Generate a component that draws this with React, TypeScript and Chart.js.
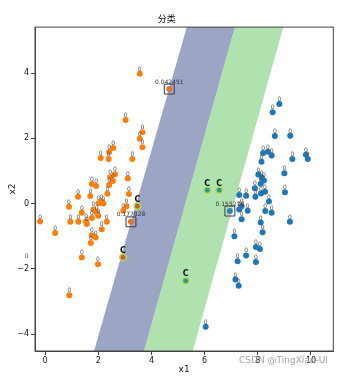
import React, { useEffect, useRef } from 'react';
import { Chart, registerables } from 'chart.js';

Chart.register(...registerables);

// axis settings
const xTicks = [0, 2, 4, 6, 8, 10];
const yTicks = [-4, -2, 0, 2, 4];
const xMin = -0.38;
const xMax = 10.84;
const yMin = -4.52;
const yMax = 5.41;

// decision band boundaries (x at yMin and at yMax)
const boundaryBottomX = [1.84, 3.72, 5.55];
const boundaryTopX = [5.33, 7.14, 8.96];

// class 0 points (orange)
const orangeX = [3.56, 3.03, 3.66, 3.56, 3.66, 2.56, 2.41, 2.09, 2.39, 3.28, 2.63, 3.11, 2.45, 2.55, 1.76, 1.92, 2.41, 1.24, 1.70, 2.34, 3.15, 0.90, 1.38, 1.82, 1.94, 2.00, 1.76, 2.01, 2.12, 2.19, 2.94, 3.06, -0.19, 0.95, 1.25, 1.54, 1.57, 2.32, 0.38, 2.13, 1.76, 1.90, 1.72, 1.38, 1.99, 0.91, -0.69];
const orangeY = [3.98, 2.56, 2.19, 1.99, 1.73, 1.70, 1.58, 1.40, 1.37, 1.37, 0.90, 0.77, 0.81, 0.69, 0.60, 0.54, 0.57, 0.21, 0.23, 0.30, 0.29, -0.10, -0.28, -0.18, -0.28, -0.37, -0.44, 0.01, 0.06, 0.00, -0.22, -0.08, -0.55, -0.56, -0.56, -0.54, -0.63, -0.56, -0.90, -0.79, -0.97, -1.04, -1.21, -1.65, -1.86, -2.81, -1.76];

// class 1 points (blue)
const blueX = [8.81, 8.56, 8.64, 9.22, 8.20, 8.38, 8.52, 8.14, 9.30, 9.81, 9.88, 9.00, 8.02, 8.15, 8.23, 8.11, 7.89, 8.27, 8.12, 9.02, 7.30, 7.56, 7.91, 8.42, 7.39, 7.30, 7.62, 8.28, 8.52, 7.39, 8.11, 9.21, 8.18, 7.12, 7.93, 8.08, 7.56, 7.24, 7.93, 7.16, 7.28, 6.04];
const blueY = [3.05, 2.80, 2.07, 2.08, 1.55, 1.59, 1.47, 1.28, 1.37, 1.50, 1.37, 0.93, 0.89, 0.80, 0.71, 0.61, 0.47, 0.36, 0.31, 0.35, 0.26, 0.24, 0.21, 0.06, -0.08, -0.18, -0.22, -0.23, -0.28, -0.48, -0.58, -0.56, -0.88, -1.00, -1.33, -1.39, -1.59, -1.77, -1.79, -2.33, -2.52, -3.78];

// support vectors with alpha values
const svX = [4.67, 3.23, 6.95];
const svY = [3.51, -0.56, -0.23];
const svClass = [0, 0, 1];
const svAlpha = ['0.042451', '0.177828', '0.155278'];

// bounded support vectors (alpha = C)
const cX = [3.47, 2.93, 6.10, 6.55, 5.29];
const cY = [-0.08, -1.65, 0.41, 0.41, -2.37];
const cClass = [0, 0, 1, 1, 1];

const ORANGE = '#ff7f0e';
const BLUE = '#1f77b4';
const FONT = "'DejaVu Sans', sans-serif";

const minus = (v: number) => String(v).replace('-', '\u2212');

const pts = (xs: number[], ys: number[]) => xs.map((x, i) => ({ x, y: ys[i] }));

const band = (i: number) => [
  { x: boundaryBottomX[i], y: yMin },
  { x: boundaryTopX[i], y: yMax },
  { x: boundaryTopX[i + 1], y: yMax },
  { x: boundaryBottomX[i + 1], y: yMin },
  { x: boundaryBottomX[i], y: yMin },
];

const labelPlugin = {
  id: 'pointLabels',
  afterDatasetsDraw(chart: any) {
    const ctx = chart.ctx;
    chart.data.datasets.forEach((ds: any, di: number) => {
      if (!ds.pointLabels) return;
      const meta = chart.getDatasetMeta(di);
      ctx.save();
      ctx.font = ds.labelFont;
      ctx.fillStyle = ds.labelColor;
      ctx.textAlign = 'center';
      ctx.textBaseline = 'middle';
      meta.data.forEach((el: any, j: number) => {
        ctx.fillText(ds.pointLabels[j], el.x, el.y - ds.labelOffset);
      });
      ctx.restore();
    });
  },
  afterDraw(chart: any) {
    const { ctx, chartArea } = chart;
    ctx.save();
    ctx.strokeStyle = '#444';
    ctx.lineWidth = 1;
    ctx.strokeRect(chartArea.left, chartArea.top, chartArea.right - chartArea.left, chartArea.bottom - chartArea.top);
    ctx.font = `9px ${FONT}`;
    ctx.fillStyle = 'rgba(150,150,150,0.85)';
    ctx.textAlign = 'right';
    ctx.textBaseline = 'middle';
    ctx.fillText('CSDN @TingXiao-UI', 328, 361);
    ctx.restore();
  },
};

export default function App() {
  const ref = useRef<HTMLCanvasElement | null>(null);

  useEffect(() => {
    if (!ref.current) return;
    const chart = new Chart(ref.current, {
      type: 'scatter',
      data: {
        datasets: [
          {
            label: 'C',
            data: pts(cX, cY),
            pointRadius: 3.3,
            borderWidth: 1.8,
            pointBackgroundColor: cClass.map((c) => (c === 0 ? '#b0683c' : '#2a9a8c')),
            pointBorderColor: 'rgba(195,220,85,0.8)',
            order: 0,
            pointLabels: cX.map(() => 'C'),
            labelFont: `bold 8px ${FONT}`,
            labelColor: '#111',
            labelOffset: 6.5,
          } as any,
          {
            label: 'sv box',
            data: pts(svX, svY),
            pointStyle: 'rect',
            pointRadius: 7,
            borderWidth: 1,
            pointBackgroundColor: 'rgba(0,0,0,0)',
            pointBorderColor: '#3a3a4c',
            order: 1,
            pointLabels: svAlpha,
            labelFont: `6px ${FONT}`,
            labelColor: '#333',
            labelOffset: 7,
          } as any,
          {
            label: 'sv',
            data: pts(svX, svY),
            pointRadius: 3,
            borderWidth: 0,
            pointBackgroundColor: svClass.map((c) => (c === 0 ? '#e0742a' : '#2b86a8')),
            order: 2,
          } as any,
          {
            label: '0',
            data: pts(orangeX, orangeY),
            pointRadius: 3,
            borderWidth: 0,
            pointBackgroundColor: ORANGE,
            order: 3,
            pointLabels: orangeX.map(() => '0'),
            labelFont: `6px ${FONT}`,
            labelColor: '#555',
            labelOffset: 4.5,
          } as any,
          {
            label: '1',
            data: pts(blueX, blueY),
            pointRadius: 3,
            borderWidth: 0,
            pointBackgroundColor: BLUE,
            order: 3,
            pointLabels: blueX.map(() => '0'),
            labelFont: `6px ${FONT}`,
            labelColor: '#555',
            labelOffset: 4.5,
          } as any,
          {
            label: 'band0',
            data: band(0),
            showLine: true,
            fill: 'shape',
            backgroundColor: 'rgb(156,166,196)',
            borderWidth: 0,
            borderColor: 'rgba(0,0,0,0)',
            pointRadius: 0,
            tension: 0,
            order: 10,
          } as any,
          {
            label: 'band1',
            data: band(1),
            showLine: true,
            fill: 'shape',
            backgroundColor: 'rgb(175,226,175)',
            borderWidth: 0,
            borderColor: 'rgba(0,0,0,0)',
            pointRadius: 0,
            tension: 0,
            order: 10,
          } as any,
        ],
      },
      options: {
        responsive: false,
        animation: false,
        layout: { padding: { left: 0, right: 8.7, top: 0, bottom: 0 } },
        plugins: {
          legend: { display: false },
          tooltip: { enabled: false },
          title: {
            display: true,
            text: '分类',
            color: '#111',
            font: { family: "'Noto Sans CJK SC', sans-serif", size: 9, weight: 'normal' },
            padding: { top: 13, bottom: 3.3 },
          },
        },
        scales: {
          x: {
            type: 'linear',
            min: xMin,
            max: xMax,
            afterBuildTicks: (s: any) => {
              s.ticks = xTicks.map((v) => ({ value: v }));
            },
            afterFit: (s: any) => {
              s.height = 27;
            },
            ticks: {
              color: '#222',
              font: { family: FONT, size: 8 },
              padding: 1,
              callback: (v: any) => minus(v),
            },
            grid: { drawOnChartArea: false, tickLength: 4, color: '#444' },
            border: { display: true, color: '#444' },
            title: {
              display: true,
              text: 'x1',
              color: '#222',
              font: { family: FONT, size: 9 },
              padding: { top: 2.6, bottom: 2.6 },
            },
          },
          y: {
            type: 'linear',
            min: yMin,
            max: yMax,
            afterBuildTicks: (s: any) => {
              s.ticks = yTicks.map((v) => ({ value: v }));
            },
            afterFit: (s: any) => {
              s.width = 35;
            },
            ticks: {
              color: '#222',
              font: { family: FONT, size: 8 },
              padding: 2,
              callback: (v: any) => minus(v),
            },
            grid: { drawOnChartArea: false, tickLength: 4, color: '#444' },
            border: { display: true, color: '#444' },
            title: {
              display: true,
              text: 'x2',
              color: '#222',
              font: { family: FONT, size: 9 },
              padding: { top: 7.3, bottom: 7.3 },
            },
          },
        },
      } as any,
      plugins: [labelPlugin],
    });
    return () => chart.destroy();
  }, []);

  return (
    <div style={{ position: 'absolute', left: 0, top: 0, width: 342, height: 378, background: '#fff' }}>
      <canvas ref={ref} width={342} height={378} style={{ display: 'block' }} />
    </div>
  );
}
